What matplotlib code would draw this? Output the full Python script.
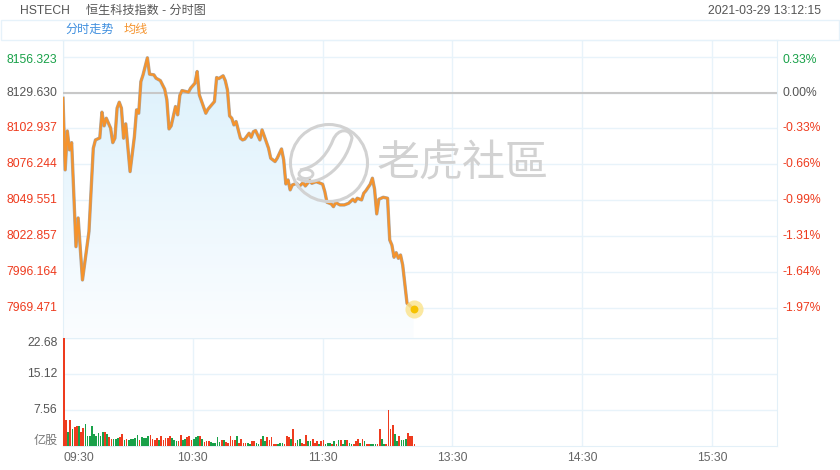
import numpy as np
import matplotlib
matplotlib.use('Agg')
import matplotlib.pyplot as plt
import matplotlib.transforms as mtransforms
from matplotlib.colors import LinearSegmentedColormap
from matplotlib.patches import Polygon, Circle, Rectangle, Ellipse, PathPatch
from matplotlib.path import Path
import matplotlib.patheffects as pe

plt.rcParams['font.family'] = ['Liberation Sans', 'Noto Sans CJK SC', 'DejaVu Sans']

# ---- data ----
prev_close = 8129.630
price_ticks = [8156.323, 8129.630, 8102.937, 8076.244, 8049.551, 8022.857, 7996.164, 7969.471]

times = ['09:30', '09:31', '09:32', '09:33', '09:34', '09:36', '09:37', '09:39', '09:42', '09:44',
         '09:45', '09:47', '09:48', '09:49', '09:50', '09:52', '09:53', '09:54', '09:55', '09:56',
         '09:57', '09:58', '09:59', '10:01', '10:03', '10:04', '10:05', '10:06', '10:07', '10:09',
         '10:10', '10:12', '10:13', '10:15', '10:17', '10:18', '10:19', '10:20', '10:22', '10:23',
         '10:24', '10:25', '10:28', '10:29', '10:31', '10:32', '10:33', '10:36', '10:37', '10:40',
         '10:41', '10:42', '10:44', '10:45', '10:46', '10:47', '10:48', '10:49', '10:50', '10:52',
         '10:53', '10:54', '10:56', '10:57', '10:58', '10:59', '11:01', '11:02', '11:03', '11:05',
         '11:06', '11:08', '11:09', '11:11', '11:12', '11:13', '11:14', '11:15', '11:16', '11:18',
         '11:19', '11:21', '11:22', '11:24', '11:25', '11:27', '11:29', '11:30', '11:31', '11:32',
         '11:34', '11:35', '11:36', '11:38', '11:40', '11:42', '11:44', '11:45', '11:46', '11:48',
         '11:49', '11:50', '11:52', '11:53', '11:54', '11:55', '11:56', '11:58', '12:00', '13:01',
         '13:02', '13:03', '13:04', '13:05', '13:06', '13:07', '13:09', '13:10', '13:12']
prices = [8125.4, 8072.0, 8101.0, 8086.9, 8092.3, 8014.8, 8036.2, 7990.0, 8026.0, 8088.1,
          8094.3, 8095.8, 8115.0, 8104.8, 8110.5, 8103.1, 8092.3, 8095.6, 8118.0, 8122.4,
          8118.0, 8095.6, 8106.3, 8070.7, 8096.8, 8116.7, 8114.2, 8137.8, 8142.8, 8155.5,
          8143.3, 8142.8, 8140.3, 8138.5, 8132.1, 8124.2, 8102.5, 8104.8, 8119.2, 8113.0,
          8127.5, 8131.1, 8129.9, 8132.9, 8136.6, 8145.3, 8127.9, 8114.2, 8117.2, 8122.9,
          8140.8, 8140.0, 8142.1, 8138.5, 8131.6, 8112.2, 8110.5, 8105.5, 8108.0, 8095.6,
          8094.3, 8094.9, 8099.3, 8096.3, 8100.5, 8101.3, 8094.3, 8101.8, 8097.3, 8088.1,
          8080.7, 8078.2, 8080.7, 8087.6, 8079.4, 8061.5, 8064.5, 8057.1, 8060.8, 8062.0,
          8059.5, 8062.5, 8060.0, 8064.0, 8062.0, 8063.2, 8062.0, 8061.3, 8055.8, 8047.9,
          8046.6, 8044.6, 8047.6, 8045.9, 8045.9, 8047.1, 8050.1, 8048.3, 8050.9, 8049.6,
          8054.6, 8056.5, 8061.3, 8065.8, 8057.6, 8039.2, 8050.1, 8051.6, 8050.9, 8019.8,
          8016.0, 8006.9, 8010.3, 8006.1, 8008.6, 8001.1, 7972.6, 7971.3, 7968.5]

# volume, one bar per minute (亿股): 09:30-11:59 and 13:00-13:12
vol_am = [22.6, 5.4, 2.9, 5.4, 3.5, 4.0, 4.2, 4.2, 2.9, 3.8,
          4.7, 2.0, 2.0, 4.3, 2.6, 2.2, 2.7, 2.0, 2.9, 2.9,
          2.6, 1.9, 1.5, 1.5, 1.5, 1.7, 1.9, 2.6, 1.3, 1.5,
          1.3, 1.4, 1.4, 1.7, 2.4, 1.3, 1.9, 1.7, 1.7, 2.2,
          2.4, 1.5, 1.3, 1.7, 1.3, 2.2, 1.2, 1.7, 1.7, 2.2,
          1.7, 1.2, 1.0, 1.1, 2.4, 1.3, 1.5, 1.9, 2.2, 1.2,
          1.5, 1.9, 2.0, 2.0, 1.5, 0.8, 1.0, 1.0, 0.8, 0.7,
          0.7, 1.9, 0.8,
          1.2, 1.3, 0.8, 0.7, 2.0, 1.3, 1.2, 2.0, 0.7, 1.5,
          0.7, 0.7, 0.7, 0.5, 1.0, 1.0, 0.7, 0.5, 1.4, 2.2,
          1.0, 1.8, 1.2, 1.8, 0.5, 0.5, 0.5, 0.7, 0.7, 0.5,
          2.1, 1.9, 1.5, 3.6, 0.7, 1.2, 1.5, 0.7, 0.5, 2.4,
          1.0, 1.0, 1.5, 0.7, 1.0, 0.5, 1.0, 1.2, 0.5, 0.7,
          0.7, 0.5, 1.0, 0.5, 1.2, 1.2, 0.5, 1.2, 1.3, 0.7,
          0.5, 0.5, 1.0, 1.4, 0.7, 1.4, 1.0, 0.5, 0.5, 0.5,
          0.5, 0.5, 0.5, 3.6, 1.5, 0.35, 0.5]
vol_pm = [7.5, 3.6, 4.5, 2.5, 1.0, 2.0, 1.3, 1.3, 1.5, 2.7, 2.0, 2.0, 0.5]
# u = up (red), d = down (green)
side_am = ("uududuuduu" "dddddddddu" "duuddduudu" "dddddudddd" "uuuuduuuuu"
           "ddduudduuu" "ddduduuudd" "ddd"
           "uduuuuuduu" "uudduuddud" "duuuuudddu" "uuduudduuu" "dduuuduudd"
           "dudududdud" "duuududuud" "dduuddu")
side_pm = "uuudduddduuuu"
vol_unit = '亿股'
vol_ticks = [7.56, 15.12, 22.68]
x_labels = ['09:30', '10:30', '11:30', '13:30', '14:30', '15:30']
session_len = 330  # minutes, 09:30-12:00 + 13:00-16:00

RED = '#ee3b1e'
GREEN = '#19a149'
GRAY = '#555555'
GRID = '#e8f3fa'
ORANGE = '#f5932c'


def tpos(t):
    h, m = map(int, t.split(':'))
    mins = h * 60 + m
    if mins <= 12 * 60:
        return mins - (9 * 60 + 30)
    return mins - 13 * 60 + 150


xs = np.array([tpos(t) for t in times], dtype=float)
ps = np.array(prices)

fig = plt.figure(figsize=(8.4, 4.7), dpi=100)
W, H = 840, 470
ax = fig.add_axes([63 / W, 1 - 338 / H, 714 / W, 298 / H])
axv = fig.add_axes([63 / W, 1 - 446 / H, 714 / W, 108 / H])

step = price_ticks[0] - price_ticks[1]
lo = price_ticks[-1] - 0.851 * step
hi = price_ticks[0] + 0.466 * step

# gradient fill under the price line
cmap = LinearSegmentedColormap.from_list('fill', ['#dcf1fc', '#fbfdff'])
grad = np.linspace(0, 1, 256).reshape(-1, 1)
img = ax.imshow(grad, extent=[0, session_len, lo, ps.max()], aspect='auto', cmap=cmap, zorder=1)
verts = [(xs[0], lo)] + list(zip(xs, ps)) + [(xs[-1], lo)]
clip = Polygon(verts, closed=True, facecolor='none', edgecolor='none')
ax.add_patch(clip)
img.set_clip_path(clip)

ax.plot(xs, ps, color=ORANGE, lw=1.6, zorder=4, solid_joinstyle='round',
        path_effects=[pe.Stroke(linewidth=2.4, foreground='#aba59f'), pe.Normal()])
ax.scatter([xs[-1]], [ps[-1]], s=170, color='#fbe38a', alpha=0.8, zorder=5, linewidths=0)
ax.scatter([xs[-1]], [ps[-1]], s=32, color='#f6c200', zorder=6, linewidths=0)

ax.axhline(prev_close, color='#c8c8c8', lw=1.5, zorder=3)
ax.set_xlim(0, session_len)
ax.set_ylim(lo, hi)
xt = [tpos(t) for t in x_labels]
ax.set_xticks(xt)
ax.set_yticks(price_ticks)
ax.grid(True, color=GRID, lw=1, zorder=0)
ax.set_axisbelow(True)
ax.tick_params(length=0, labelbottom=False, labelleft=False)
for s in ax.spines.values():
    s.set_color('#e3f0f8')
ax.spines['bottom'].set_visible(False)

# left / right price labels
for i, v in enumerate(price_ticks):
    if v > prev_close + 1e-6:
        c = GREEN
    elif abs(v - prev_close) < 1e-6:
        c = GRAY
    else:
        c = RED
    dy = -3 if i == 0 else 0
    tl = mtransforms.offset_copy(ax.get_yaxis_transform(), fig=fig, x=-5.5, y=dy, units='dots')
    ax.text(0, v, f'{v:.3f}', transform=tl, ha='right', va='center', color=c, fontsize=8.7)
    tr = mtransforms.offset_copy(ax.get_yaxis_transform(), fig=fig, x=5.5, y=dy, units='dots')
    pct = (v / prev_close - 1) * 100
    ax.text(1, v, f'{pct:.2f}%', transform=tr, ha='left', va='center', color=c, fontsize=8.7)

# volume bars
vol = vol_am + vol_pm
side = side_am + side_pm
vx = np.arange(len(vol))
colors = [RED if s == 'u' else GREEN for s in side]
axv.bar(vx, vol, width=0.78, align='edge', color=colors, lw=0, zorder=3)
axv.set_xlim(0, session_len)
axv.set_ylim(0, vol_ticks[-1])
axv.set_xticks(xt, labels=x_labels)
axv.set_yticks(vol_ticks)
axv.grid(True, color=GRID, lw=1, zorder=0)
axv.set_axisbelow(True)
axv.tick_params(length=0, labelleft=False, labelsize=8.7, labelcolor='#666666', pad=4)
axv.get_xticklabels()[0].set_ha('left')
for s in axv.spines.values():
    s.set_color('#e3f0f8')
for i, v in enumerate(vol_ticks):
    dy = -5 if i == len(vol_ticks) - 1 else 0
    tl = mtransforms.offset_copy(axv.get_yaxis_transform(), fig=fig, x=-5.5, y=dy, units='dots')
    axv.text(0, v, f'{v:.2f}', transform=tl, ha='right', va='center', color=GRAY, fontsize=8.7)
tl = mtransforms.offset_copy(axv.get_yaxis_transform(), fig=fig, x=-5.5, y=5, units='dots')
axv.text(0, 0, vol_unit, transform=tl, ha='right', va='center', color='#777777', fontsize=8.7)

# header
fig.text(20 / W, 1 - 10.5 / H, 'HSTECH', ha='left', va='center', color=GRAY, fontsize=8.7)
fig.text(86 / W, 1 - 10.5 / H, '恒生科技指数 - 分时图', ha='left', va='center', color=GRAY, fontsize=8.7)
fig.text(821 / W, 1 - 10.5 / H, '2021-03-29 13:12:15', ha='right', va='center', color=GRAY, fontsize=8.7)
fig.add_artist(Rectangle((0.01, 4.30), 8.38, 0.20, transform=fig.dpi_scale_trans,
                         facecolor='none', edgecolor='#e6f2fa', lw=1))
fig.text(65 / W, 1 - 30 / H, '分时走势', ha='left', va='center', color='#3f8fdf', fontsize=8.7)
fig.text(124 / W, 1 - 30 / H, '均线', ha='left', va='center', color=ORANGE, fontsize=8.7)

# watermark
wm = '#d2d2d2'
fig.add_artist(Circle((3.29, 3.07), 0.385, transform=fig.dpi_scale_trans,
                      facecolor='none', edgecolor=wm, lw=2.2, zorder=2))
swoosh = Path([(2.97, 2.92), (3.15, 2.80), (3.45, 3.00), (3.52, 3.32),
               (3.50, 3.42), (3.38, 3.42), (3.33, 3.30),
               (3.25, 3.10), (3.12, 3.02), (3.00, 3.00)],
              [Path.MOVETO, Path.CURVE4, Path.CURVE4, Path.CURVE4,
               Path.CURVE4, Path.CURVE4, Path.CURVE4,
               Path.CURVE4, Path.CURVE4, Path.CURVE4])
fig.add_artist(PathPatch(swoosh, transform=fig.dpi_scale_trans, facecolor='none',
                         edgecolor=wm, lw=2.2, zorder=2))
fig.add_artist(Ellipse((3.06, 2.96), 0.14, 0.09, transform=fig.dpi_scale_trans,
                       facecolor='none', edgecolor=wm, lw=2.0, zorder=2))
fig.text(463 / W, 1 - 165 / H, '老虎社區', ha='center', va='center', color=wm,
         fontsize=31, family=['Noto Sans CJK TC', 'Noto Sans CJK SC'], zorder=2)

fig.savefig('out.png', dpi=100)
